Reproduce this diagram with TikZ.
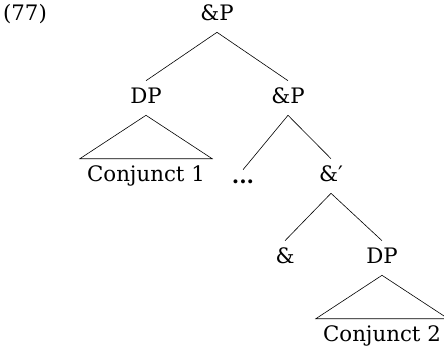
\documentclass[tikz,border=0pt]{standalone}
\usepackage{fontspec}
\setmainfont{DejaVu Serif}

\begin{document}
\begin{tikzpicture}[x=1pt,y=-1pt,semithick,node distance=78pt]
	\tikzstyle{cat}=[font=\fontsize{21.3}{25}\selectfont,text height=15pt,text depth=4pt,inner xsep=7pt,inner ysep=7.5pt]
	\tikzstyle{gap}=[font=\fontsize{21.3}{25}\selectfont\bfseries,inner sep=10pt]
	\useasboundingbox (0,0) rectangle (444,351);
	
	\node[cat] (ex)   at (25,15)          {(77)};
	\node[cat] (top)  at (217,15)         {\&P};
	\node[cat] (dpa)  at (146,98)         {DP};
	\node[cat] (cja)  [below of=dpa]      {Conjunct 1};
	\node[cat] (andp) at (288,98)         {\&P};
	\node[gap] (dots) at (243,182)        {...};
	\node[cat] (bar)  at (331,176)        {\&′};
	\node[cat] (amp)  at (285,258)        {\&};
	\node[cat] (dpb)  at (382,258)        {DP};
	\node[cat] (cjb)  [below of=dpb]      {Conjunct 2};
	
	\path[draw]
	(top.south)  edge (dpa.north)
	(top.south)  edge (andp.north)
	(andp.south) edge (dots.north)
	(andp.south) edge (bar.north)
	(bar.south)  edge (amp.north)
	(bar.south)  edge (dpb.north);
	
	% roofs over the unanalysed conjuncts
	\draw (dpa.south) -- (cja.north west) -- (cja.north east) -- cycle;
	\draw (dpb.south) -- (cjb.north west) -- (cjb.north east) -- cycle;
\end{tikzpicture}
\end{document}
